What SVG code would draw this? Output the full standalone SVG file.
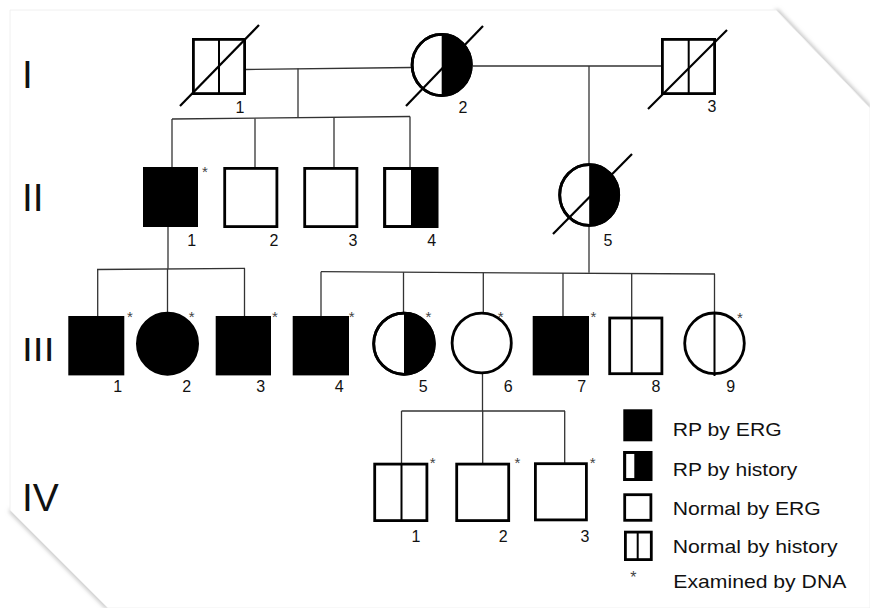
<svg xmlns="http://www.w3.org/2000/svg" width="870" height="608" viewBox="0 0 870 608">
<defs>
<filter id="blur" x="-20%" y="-20%" width="140%" height="140%"><feGaussianBlur stdDeviation="2"/></filter>
</defs>
<style>
.sym{fill:#fff;stroke:#000;stroke-width:2.8}
.aff{fill:#000;stroke:#000;stroke-width:2.8}
.blk{fill:#000;stroke:none}
.mid{stroke:#000;stroke-width:2;fill:none}
.dead{stroke:#000;stroke-width:2.2;fill:none}
.con line{stroke:#333;stroke-width:1.3;fill:none}
.num{font-family:"Liberation Sans",Arial,sans-serif;font-size:16px;fill:#111;text-anchor:middle}
.ast{font-family:"Liberation Sans",Arial,sans-serif;font-size:15px;fill:#444;text-anchor:middle}
.gen{font-family:"Liberation Sans",Arial,sans-serif;font-size:39px;fill:#111}
.leg{font-family:"Liberation Sans",Arial,sans-serif;font-size:19px;fill:#111}
</style>
<rect width="870" height="608" fill="#fff"/>
<g id="page">
<line x1="776" y1="10" x2="870" y2="108" stroke="#aaa" stroke-width="3" filter="url(#blur)"/>
<line x1="10" y1="510" x2="108" y2="608" stroke="#aaa" stroke-width="3" filter="url(#blur)"/>
<polygon points="10,10 776,10 870,108 870,608 108,608 10,510" fill="#fff" stroke="#f0f0f0" stroke-width="1"/>
</g>
<g id="generations">
<text class="gen" x="22" y="87.5">I</text>
<text class="gen" x="22" y="211">II</text>
<text class="gen" transform="translate(22,361) scale(1,0.83)">III</text>
<text class="gen" x="22" y="510.7">IV</text>
</g>
<g id="connectors" class="con">
<line x1="246" y1="69.5" x2="411" y2="67.5"/>
<line x1="298" y1="68.5" x2="298" y2="117.5"/>
<line x1="172" y1="119" x2="410" y2="116.5"/>
<line x1="172" y1="119" x2="172" y2="167"/>
<line x1="255" y1="118.5" x2="255" y2="167"/>
<line x1="334" y1="117.7" x2="334" y2="167"/>
<line x1="410" y1="116.5" x2="410" y2="167"/>
<line x1="473" y1="66" x2="661" y2="66"/>
<line x1="589" y1="66" x2="589" y2="164"/>
<line x1="168" y1="227" x2="168" y2="268.8"/>
<line x1="97" y1="269.5" x2="245" y2="268.3"/>
<line x1="97.7" y1="269.5" x2="97.7" y2="316"/>
<line x1="167.5" y1="268.8" x2="167.5" y2="312"/>
<line x1="244.5" y1="268.3" x2="244.5" y2="316"/>
<line x1="589" y1="226" x2="589" y2="272.7"/>
<line x1="321" y1="271.7" x2="715" y2="274"/>
<line x1="321" y1="271.7" x2="321" y2="316"/>
<line x1="403.5" y1="272.2" x2="403.5" y2="312"/>
<line x1="483.3" y1="272.7" x2="483.3" y2="312"/>
<line x1="563" y1="273.1" x2="563" y2="316"/>
<line x1="631.7" y1="273.5" x2="631.7" y2="318"/>
<line x1="714.5" y1="274" x2="714.5" y2="312"/>
<line x1="482.5" y1="374" x2="482.5" y2="411"/>
<line x1="401.5" y1="411" x2="565" y2="411"/>
<line x1="401.5" y1="411" x2="401.5" y2="463"/>
<line x1="482.7" y1="411" x2="482.7" y2="463"/>
<line x1="564.7" y1="411" x2="564.7" y2="463"/>
</g>
<g id="I-1">
<rect class="sym" x="193.4" y="39.4" width="51.2" height="54.2"/>
<line class="mid" x1="219" y1="39.4" x2="219" y2="93.6"/>
<line class="dead" x1="180" y1="106" x2="259" y2="25"/>
<text class="num" x="240" y="112.5">1</text>
</g>
<g id="I-2">
<ellipse class="sym" cx="441.7" cy="65" rx="29.6" ry="30.6"/>
<path class="blk" d="M441.7,34.4 A29.6,30.6 0 0 1 441.7,95.6 Z"/>
<ellipse cx="441.7" cy="65" rx="29.6" ry="30.6" fill="none" stroke="#000" stroke-width="2.8"/>
<line class="dead" x1="406" y1="106" x2="483" y2="26"/>
<text class="num" x="463" y="112.5">2</text>
</g>
<g id="I-3">
<rect class="sym" x="662.4" y="39.4" width="52.2" height="54.2"/>
<line class="mid" x1="688.7" y1="39.4" x2="688.7" y2="93.6"/>
<line class="dead" x1="648" y1="109" x2="727" y2="30"/>
<text class="num" x="712" y="112">3</text>
</g>
<g id="II-1">
<rect class="aff" x="144.4" y="168.4" width="52.2" height="57.2"/>
<text class="ast" x="205" y="176.5">*</text>
<text class="num" x="191.7" y="245.5">1</text>
</g>
<g id="II-2">
<rect class="sym" x="224.7" y="168.4" width="52.2" height="58.2"/>
<text class="num" x="274" y="245.5">2</text>
</g>
<g id="II-3">
<rect class="sym" x="304.7" y="168.4" width="52.2" height="58.2"/>
<text class="num" x="353" y="245.5">3</text>
</g>
<g id="II-4">
<rect class="sym" x="384.7" y="168.4" width="52.2" height="58.2"/>
<rect class="blk" x="411" y="168.4" width="25.9" height="58.2"/>
<rect x="384.7" y="168.4" width="52.2" height="58.2" fill="none" stroke="#000" stroke-width="2.8"/>
<text class="num" x="431.7" y="245.5">4</text>
</g>
<g id="II-5">
<ellipse class="sym" cx="589.2" cy="195" rx="29.5" ry="30.3"/>
<path class="blk" d="M589.2,164.7 A29.5,30.3 0 0 1 589.2,225.3 Z"/>
<ellipse cx="589.2" cy="195" rx="29.5" ry="30.3" fill="none" stroke="#000" stroke-width="2.8"/>
<line class="dead" x1="553" y1="234" x2="632" y2="154"/>
<text class="num" x="608" y="245.5">5</text>
</g>
<g id="III-1">
<rect class="aff" x="69.7" y="317.4" width="53.2" height="56.6"/>
<text class="ast" x="130" y="321.5">*</text>
<text class="num" x="117.7" y="392">1</text>
</g>
<g id="III-2">
<ellipse class="aff" cx="167.5" cy="343.7" rx="30.1" ry="30.6"/>
<text class="ast" x="191.7" y="321.5">*</text>
<text class="num" x="186.7" y="392">2</text>
</g>
<g id="III-3">
<rect class="aff" x="217.1" y="317.4" width="52.5" height="56.6"/>
<text class="ast" x="275" y="321.5">*</text>
<text class="num" x="260.7" y="392">3</text>
</g>
<g id="III-4">
<rect class="aff" x="294.1" y="317.4" width="53.5" height="56.6"/>
<text class="ast" x="351.7" y="321.5">*</text>
<text class="num" x="339.3" y="392">4</text>
</g>
<g id="III-5">
<ellipse class="sym" cx="404" cy="343.7" rx="30.3" ry="30.6"/>
<path class="blk" d="M404,313.1 A30.3,30.6 0 0 1 404,374.3 Z"/>
<ellipse cx="404" cy="343.7" rx="30.3" ry="30.6" fill="none" stroke="#000" stroke-width="2.8"/>
<text class="ast" x="428.3" y="321.5">*</text>
<text class="num" x="423.3" y="392">5</text>
</g>
<g id="III-6">
<ellipse class="sym" cx="481.7" cy="343" rx="29.6" ry="29.9"/>
<text class="ast" x="500.7" y="321.5">*</text>
<text class="num" x="508.3" y="392">6</text>
</g>
<g id="III-7">
<rect class="aff" x="534.1" y="317.4" width="53.5" height="56.6"/>
<text class="ast" x="593.3" y="321.5">*</text>
<text class="num" x="581.7" y="392">7</text>
</g>
<g id="III-8">
<rect class="sym" x="609.7" y="318" width="52.2" height="55.7"/>
<line class="mid" x1="631.7" y1="318" x2="631.7" y2="373.7"/>
<text class="num" x="656" y="392">8</text>
</g>
<g id="III-9">
<ellipse class="sym" cx="714.5" cy="343.3" rx="29.8" ry="30.3"/>
<line class="mid" x1="714.5" y1="313" x2="714.5" y2="376" stroke-width="1.6"/>
<text class="ast" x="740" y="322.5">*</text>
<text class="num" x="730.7" y="392">9</text>
</g>
<g id="IV-1">
<rect class="sym" x="374.7" y="464.1" width="52.2" height="56.5"/>
<line class="mid" x1="401.5" y1="464.1" x2="401.5" y2="520.6"/>
<text class="ast" x="432.7" y="467.8">*</text>
<text class="num" x="416" y="541.7">1</text>
</g>
<g id="IV-2">
<rect class="sym" x="456.7" y="464.1" width="52" height="56.5"/>
<text class="ast" x="517.3" y="467.5">*</text>
<text class="num" x="503.3" y="541.7">2</text>
</g>
<g id="IV-3">
<rect class="sym" x="535.4" y="463.7" width="51" height="56.2"/>
<text class="ast" x="592.7" y="467.5">*</text>
<text class="num" x="585" y="541.7">3</text>
</g>
<g id="legend">
<rect class="aff" x="624.7" y="410.7" width="26.2" height="29.2"/>
<text class="leg" x="672.7" y="436" textLength="109" lengthAdjust="spacingAndGlyphs">RP by ERG</text>
<rect class="sym" x="624.7" y="452.4" width="26.2" height="27.2"/>
<rect class="blk" x="634.3" y="452.4" width="16.6" height="27.2"/>
<rect x="624.7" y="452.4" width="26.2" height="27.2" fill="none" stroke="#000" stroke-width="2.8"/>
<text class="leg" x="672.7" y="476" textLength="124.7" lengthAdjust="spacingAndGlyphs">RP by history</text>
<rect class="sym" x="624.7" y="494.7" width="26.2" height="25.6"/>
<text class="leg" x="672.7" y="515" textLength="148" lengthAdjust="spacingAndGlyphs">Normal by ERG</text>
<rect class="sym" x="625.4" y="532.1" width="25.9" height="27.5"/>
<line class="mid" x1="637.7" y1="532.1" x2="637.7" y2="559.6"/>
<text class="leg" x="672.7" y="552.7" textLength="165" lengthAdjust="spacingAndGlyphs">Normal by history</text>
<text class="ast" x="633.3" y="583" style="font-size:16px">*</text>
<text class="leg" x="673.3" y="588.3" textLength="173" lengthAdjust="spacingAndGlyphs">Examined by DNA</text>
</g>
</svg>
